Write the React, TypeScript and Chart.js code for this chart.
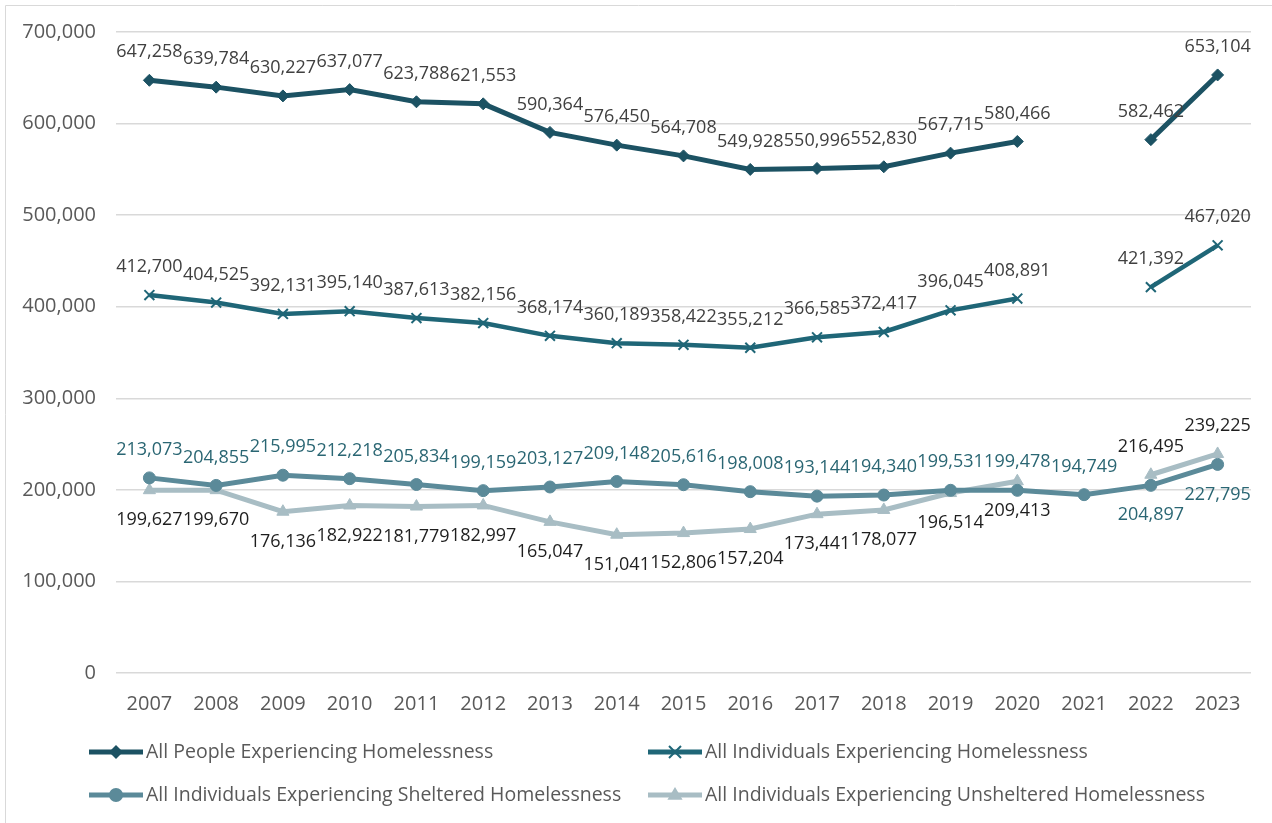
import React, { useEffect, useRef } from 'react';
import { Chart, registerables } from 'chart.js';

Chart.register(...registerables);

const years = ['2007', '2008', '2009', '2010', '2011', '2012', '2013', '2014', '2015', '2016', '2017', '2018', '2019', '2020', '2021', '2022', '2023'];

const allPeople: (number | null)[] = [647258, 639784, 630227, 637077, 623788, 621553, 590364, 576450, 564708, 549928, 550996, 552830, 567715, 580466, null, 582462, 653104];
const allIndividuals: (number | null)[] = [412700, 404525, 392131, 395140, 387613, 382156, 368174, 360189, 358422, 355212, 366585, 372417, 396045, 408891, null, 421392, 467020];
const sheltered: (number | null)[] = [213073, 204855, 215995, 212218, 205834, 199159, 203127, 209148, 205616, 198008, 193144, 194340, 199531, 199478, 194749, 204897, 227795];
const unsheltered: (number | null)[] = [199627, 199670, 176136, 182922, 181779, 182997, 165047, 151041, 152806, 157204, 173441, 178077, 196514, 209413, null, 216495, 239225];

const seriesNames = [
  'All People Experiencing Homelessness',
  'All Individuals Experiencing Homelessness',
  'All Individuals Experiencing Sheltered Homelessness',
  'All Individuals Experiencing Unsheltered Homelessness',
];

const yMin = 0;
const yMax = 700000;
const yStep = 100000;

const FONT = '"Open Sans", sans-serif';
const C1 = '#1C5263';
const C2 = '#1F6677';
const C3 = '#5B8A99';
const C4 = '#A8BDC4';

const fmt = (v: number) => v.toLocaleString('en-US');

// label placement rules (style, not data)
const shelteredBelowYears = ['2022', '2023'];
const unshelteredAboveYears = ['2022', '2023'];

function drawMarker(ctx: CanvasRenderingContext2D, style: string, x: number, y: number, r: number, color: string) {
  ctx.save();
  ctx.fillStyle = color;
  ctx.strokeStyle = color;
  ctx.beginPath();
  if (style === 'rectRot') {
    ctx.moveTo(x, y - r);
    ctx.lineTo(x + r, y);
    ctx.lineTo(x, y + r);
    ctx.lineTo(x - r, y);
    ctx.closePath();
    ctx.fill();
  } else if (style === 'crossRot') {
    ctx.lineWidth = 2;
    const d = r * 0.75;
    ctx.moveTo(x - d, y - d);
    ctx.lineTo(x + d, y + d);
    ctx.moveTo(x + d, y - d);
    ctx.lineTo(x - d, y + d);
    ctx.stroke();
  } else if (style === 'circle') {
    ctx.arc(x, y, r, 0, Math.PI * 2);
    ctx.fill();
  } else if (style === 'triangle') {
    ctx.moveTo(x, y - r);
    ctx.lineTo(x + r * 0.95, y + r * 0.6);
    ctx.lineTo(x - r * 0.95, y + r * 0.6);
    ctx.closePath();
    ctx.fill();
  }
  ctx.restore();
}

const dataLabelPlugin = {
  id: 'dataLabels',
  afterDatasetsDraw(chart: any) {
    const ctx: CanvasRenderingContext2D = chart.ctx;
    chart.data.datasets.forEach((ds: any, di: number) => {
      const meta = chart.getDatasetMeta(di);
      ctx.save();
      ctx.font = `18px ${FONT}`;
      ctx.fillStyle = ds.labelColor;
      ctx.textAlign = 'center';
      ctx.textBaseline = 'middle';
      meta.data.forEach((pt: any, i: number) => {
        const v = ds.data[i];
        if (v == null) return;
        const below = ds.labelBelow(years[i]);
        ctx.fillText(fmt(v), pt.x, pt.y + (below ? 30 : -28));
      });
      ctx.restore();
    });
  },
};

const legendPlugin = {
  id: 'customLegend',
  afterDraw(chart: any) {
    const ctx: CanvasRenderingContext2D = chart.ctx;
    const cols = [89, 648];
    const rows = [752, 795];
    chart.data.datasets.forEach((ds: any, i: number) => {
      const x0 = cols[i % 2];
      const y = rows[Math.floor(i / 2)];
      ctx.save();
      ctx.strokeStyle = ds.borderColor;
      ctx.lineWidth = 5;
      ctx.beginPath();
      ctx.moveTo(x0, y);
      ctx.lineTo(x0 + 54, y);
      ctx.stroke();
      drawMarker(ctx, ds.pointStyle, x0 + 27, y, ds.pointRadius + 1, ds.borderColor);
      ctx.fillStyle = '#595959';
      ctx.font = `19.5px ${FONT}`;
      ctx.textAlign = 'left';
      ctx.textBaseline = 'middle';
      ctx.fillText(ds.label, x0 + 57, y);
      ctx.restore();
    });
    // outer frame
    ctx.save();
    ctx.strokeStyle = '#D9D9D9';
    ctx.lineWidth = 1;
    ctx.beginPath();
    ctx.moveTo(5.5, 823);
    ctx.lineTo(5.5, 5.5);
    ctx.lineTo(1272, 5.5);
    ctx.stroke();
    ctx.restore();
  },
};

export default function App() {
  const ref = useRef<HTMLCanvasElement | null>(null);

  useEffect(() => {
    if (!ref.current) return;
    const chart = new Chart(ref.current, {
      type: 'line',
      data: {
        labels: years,
        datasets: [
          {
            label: seriesNames[0],
            data: allPeople,
            borderColor: C1,
            backgroundColor: C1,
            borderWidth: 5,
            pointStyle: 'rectRot',
            pointRadius: 6,
            pointBorderWidth: 1,
            pointBackgroundColor: C1,
            pointBorderColor: C1,
            labelColor: '#404040',
            labelBelow: () => false,
          } as any,
          {
            label: seriesNames[1],
            data: allIndividuals,
            borderColor: C2,
            backgroundColor: C2,
            borderWidth: 4.5,
            pointStyle: 'crossRot',
            pointRadius: 7,
            pointBorderWidth: 2,
            pointBackgroundColor: C2,
            pointBorderColor: C2,
            labelColor: '#404040',
            labelBelow: () => false,
          } as any,
          {
            label: seriesNames[2],
            data: sheltered,
            borderColor: C3,
            backgroundColor: C3,
            borderWidth: 5,
            pointStyle: 'circle',
            pointRadius: 6,
            pointBorderWidth: 1,
            pointBackgroundColor: C3,
            pointBorderColor: C3,
            labelColor: '#2A6673',
            labelBelow: (y: string) => shelteredBelowYears.includes(y),
          } as any,
          {
            label: seriesNames[3],
            data: unsheltered,
            borderColor: C4,
            backgroundColor: C4,
            borderWidth: 5,
            pointStyle: 'triangle',
            pointRadius: 7,
            pointBorderWidth: 1,
            pointBackgroundColor: C4,
            pointBorderColor: C4,
            labelColor: '#1E1E1E',
            labelBelow: (y: string) => !unshelteredAboveYears.includes(y),
          } as any,
        ],
      },
      options: {
        animation: false,
        responsive: false,
        spanGaps: false,
        layout: { padding: { top: 32, right: 21, left: 0, bottom: 0 } },
        plugins: {
          legend: { display: false },
          tooltip: { enabled: false },
        },
        elements: { line: { tension: 0 } },
        scales: {
          x: {
            offset: true,
            grid: { display: false, drawTicks: false },
            border: { display: false },
            ticks: { color: '#595959', font: { family: FONT, size: 20 }, padding: 19, maxRotation: 0 },
            afterFit: (s: any) => { s.height = 150; },
          },
          y: {
            min: yMin,
            max: yMax,
            grid: { color: '#D9D9D9', lineWidth: 1.5, drawTicks: false },
            border: { display: false },
            ticks: {
              stepSize: yStep,
              color: '#595959',
              font: { family: FONT, size: 20 },
              padding: 20,
              callback: (v: any) => fmt(Number(v)),
            },
            afterFit: (s: any) => { s.width = 116; },
          },
        },
      } as any,
      plugins: [dataLabelPlugin, legendPlugin],
    });
    return () => chart.destroy();
  }, []);

  return (
    <div style={{ position: 'fixed', left: 0, top: 0, width: 1272, height: 823, background: '#fff' }}>
      <canvas ref={ref} width={1272} height={823} style={{ width: 1272, height: 823, display: 'block' }} />
    </div>
  );
}
